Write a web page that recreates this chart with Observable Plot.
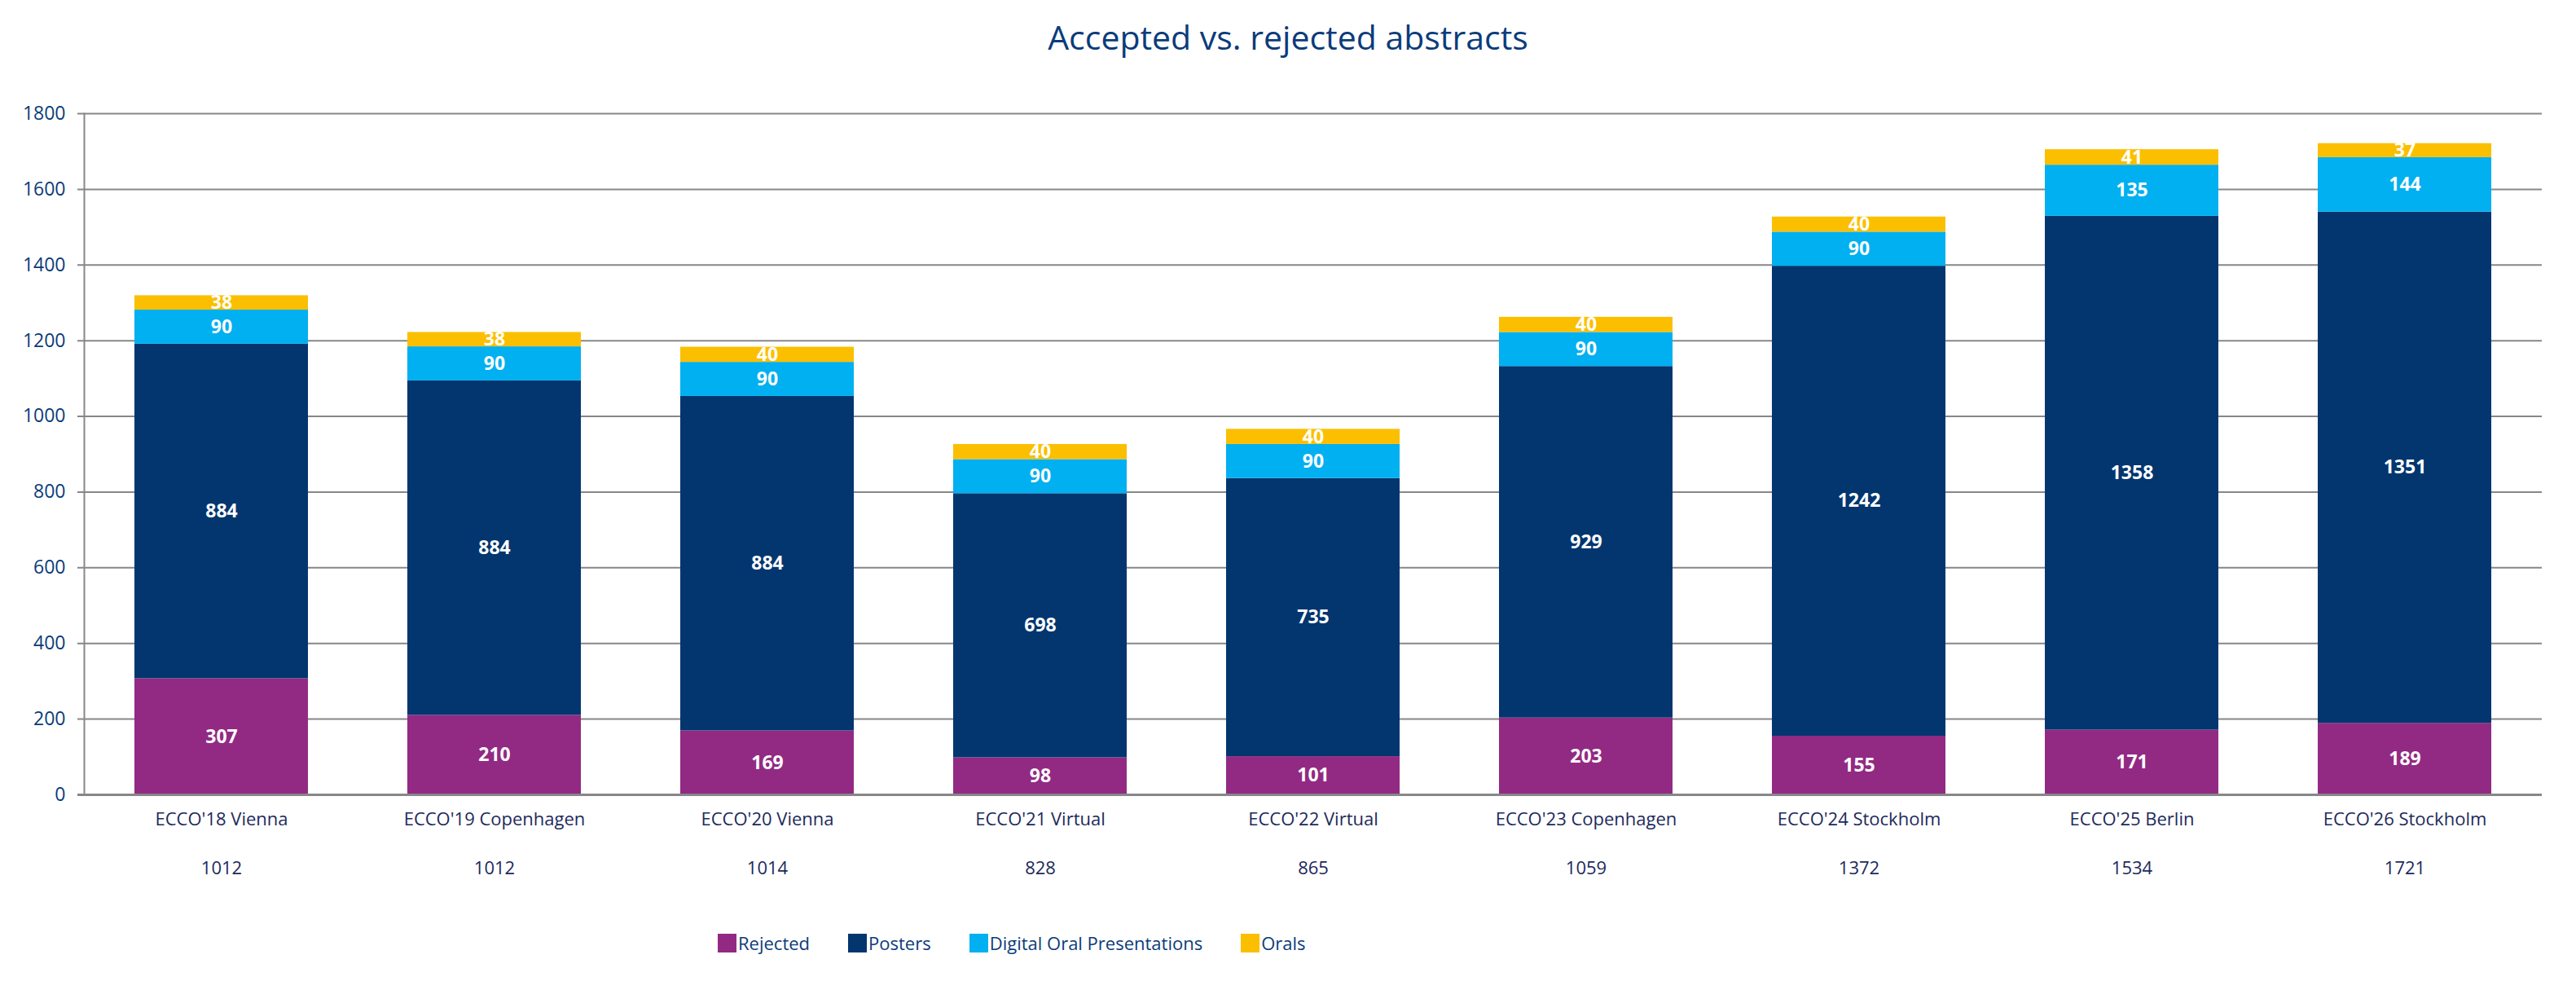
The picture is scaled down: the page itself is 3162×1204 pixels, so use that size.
<!DOCTYPE html>
<html>
<head>
<meta charset="utf-8">
<script src="https://cdn.jsdelivr.net/npm/d3@7"></script>
<script src="https://cdn.jsdelivr.net/npm/@observablehq/plot@0.6"></script>
<style>
  html, body { margin: 0; padding: 0; background: #fff; }
  body { width: 3162px; height: 1204px; overflow: hidden; font-family: "Open Sans", sans-serif; }
  #title { height: 90px; line-height: 90px; text-align: center; font-size: 41px; color: #0b3c7a; }
  #legend { height: 94px; display: flex; align-items: center; padding-left: 881px; font-size: 22px; color: #0b3c7a; }
  .item { display: flex; align-items: center; margin-right: 47px; }
  .sw { width: 23px; height: 23px; margin-right: 2px; }
</style>
</head>
<body>
<div id="title">Accepted vs. rejected abstracts</div>
<div id="chart"></div>
<div id="legend"></div>
<script>
const categories = ["ECCO'18 Vienna", "ECCO'19 Copenhagen", "ECCO'20 Vienna", "ECCO'21 Virtual", "ECCO'22 Virtual", "ECCO'23 Copenhagen", "ECCO'24 Stockholm", "ECCO'25 Berlin", "ECCO'26 Stockholm"];
const totals = [1012, 1012, 1014, 828, 865, 1059, 1372, 1534, 1721];
const rejected = [307, 210, 169, 98, 101, 203, 155, 171, 189];
const posters = [884, 884, 884, 698, 735, 929, 1242, 1358, 1351];
const digitalOral = [90, 90, 90, 90, 90, 90, 90, 135, 144];
const orals = [38, 38, 40, 40, 40, 40, 40, 41, 37];
const seriesNames = ["Rejected", "Posters", "Digital Oral Presentations", "Orals"];
const seriesColors = ["#922a83", "#03366f", "#00b0f0", "#fbbf00"];
const yTicks = [0, 200, 400, 600, 800, 1000, 1200, 1400, 1600, 1800];

const seriesValues = [rejected, posters, digitalOral, orals];
const rows = [];
categories.forEach((c, i) => {
  seriesNames.forEach((s, j) => rows.push({cat: c, series: s, value: seriesValues[j][i]}));
});
const catRows = categories.map((c, i) => ({cat: c, total: totals[i]}));

const axisColor = "#0b3c7a";
const catColor = "#1d2a5c";
const gridColor = "#878787";

const chart = Plot.plot({
  width: 3162,
  height: 1020,
  marginTop: 49,
  marginBottom: 135,
  marginLeft: 95,
  marginRight: 42,
  style: {fontFamily: "Open Sans, sans-serif", background: "#fff"},
  x: {domain: categories, paddingInner: 0.365, paddingOuter: 0.179, insetLeft: 8, axis: null},
  y: {domain: [0, 1800], axis: null},
  color: {domain: seriesNames, range: seriesColors},
  marks: [
    Plot.gridY(yTicks, {stroke: gridColor, strokeOpacity: 1, strokeWidth: 2}),
    Plot.axisY(yTicks, {tickSize: 0, tickPadding: 15, fontSize: 23, color: axisColor, label: null, tickFormat: d => String(d)}),
    Plot.frame({anchor: "left", dx: 8, stroke: gridColor, strokeWidth: 2}),
    Plot.barY(rows, {x: "cat", y: "value", fill: "series", order: seriesNames}),
    Plot.text(rows, Plot.stackY({x: "cat", y: "value", z: "series", order: seriesNames, text: d => String(d.value), fill: "#fff", fontSize: 23, fontWeight: 700})),
    Plot.ruleY([0], {stroke: gridColor, strokeWidth: 3}),
    Plot.text(catRows, {x: "cat", text: "cat", frameAnchor: "bottom", lineAnchor: "middle", dy: 30, fontSize: 22, fill: catColor}),
    Plot.text(catRows, {x: "cat", text: d => String(d.total), frameAnchor: "bottom", lineAnchor: "middle", dy: 90, fontSize: 22, fill: catColor})
  ]
});
document.getElementById("chart").appendChild(chart);

const legend = document.getElementById("legend");
seriesNames.forEach((s, j) => {
  const item = document.createElement("div");
  item.className = "item";
  const sw = document.createElement("span");
  sw.className = "sw";
  sw.style.background = seriesColors[j];
  const label = document.createElement("span");
  label.textContent = s;
  item.appendChild(sw);
  item.appendChild(label);
  legend.appendChild(item);
});
</script>
</body>
</html>
